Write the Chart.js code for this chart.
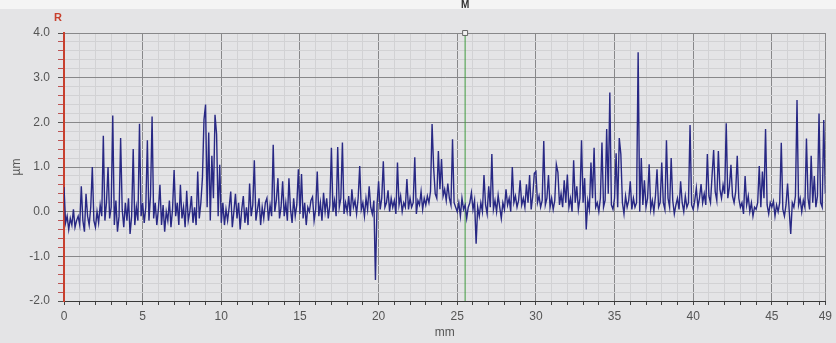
<!DOCTYPE html>
<html>
<head>
<meta charset="utf-8">
<script src="https://cdn.jsdelivr.net/npm/chart.js@4.4.0/dist/chart.umd.min.js"></script>
<style>
  html, body { margin: 0; padding: 0; }
  body {
    width: 836px;
    height: 343px;
    overflow: hidden;
    background: linear-gradient(#f4f4f4 0, #f4f4f4 9px, #e4e4e6 9px);
  }
  canvas { display: block; }
</style>
</head>
<body>
<canvas id="profileChart" width="836" height="343"></canvas>
<script>
// roughness profile, one height every 0.1 mm (µm)
const sampleStepMm = 0.1;

const heights00to10 = [
  0.55, -0.25, -0.1, -0.4, -0.15, -0.3, 0.05, -0.35, -0.2, -0.1,
  -0.3, 0.57, -0.2, -0.45, 0.4, -0.1, -0.3, 0.1, 1.0, -0.2,
  -0.35, 0.0, -0.25, 0.15, -0.1, 1.7, -0.2, 0.2, 1.0, -0.15,
  0.1, 2.15, -0.3, 0.25, -0.45, -0.1, 1.65, 0.05, -0.35, 0.2,
  -0.2, 0.3, -0.5, -0.1, 1.4, -0.3, 0.1, -0.2, 1.97, -0.1,
  0.2, -0.25, 0.1, 1.6, -0.2, 0.35, 2.13, -0.15, 0.2, -0.3,
  0.05, 0.6, -0.3, 0.15, -0.45, 0.0, -0.2, 0.25, -0.35, 0.05,
  0.93, -0.1, 0.2, -0.3, 0.6, -0.15, 0.1, -0.35, 0.47, -0.2,
  0.0, 0.35, -0.25, 0.1, -0.3, 0.9, -0.15, 0.2, 0.75, 2.06,
  2.4, 0.1, 1.77, -0.2, 1.25, 0.3, 2.17, 1.74, -0.1, 1.05
];

const heights10to20 = [
  -0.25, 0.2, -0.3, 0.05, -0.2, 0.1, 0.45, -0.35, 0.0, 0.4,
  -0.15, 0.2, -0.4, 0.05, 0.35, -0.25, 0.1, -0.3, 0.63, -0.1,
  0.15, 1.15, -0.2, 0.05, 0.3, -0.3, 0.1, -0.15, 0.2, 0.3,
  -0.2, 0.15, -0.1, 1.5, 0.0, 0.25, 0.75, -0.15, 0.1, 0.68,
  -0.1, 0.2, -0.2, 0.75, 0.05, -0.25, 0.3, -0.1, 0.15, 0.95,
  -0.05, 0.84, -0.15, 0.2, -0.3, 0.1, 0.0, 0.25, 0.33, -0.2,
  0.05, 0.9, -0.1, 0.2, -0.2, 0.42, 0.0, 0.3, -0.15, 0.15,
  1.43, 0.0, 0.25, -0.1, 1.45, 0.1, 0.3, 1.55, -0.05, 0.2,
  0.0, 0.35, -0.1, 0.5, 0.1, 0.25, -0.05, 0.3, 1.02, 0.05,
  0.2, -0.1, 0.3, 0.05, 0.57, 0.1, -0.05, 0.25, -1.53, 0.15
];

const heights20to30 = [
  0.68, 0.05, 0.3, 1.13, 0.1, 0.2, 0.48, 0.0, 0.3, 0.1,
  0.25, -0.05, 1.1, 0.15, 0.35, 0.0, 0.2, 0.1, 0.73, 0.05,
  0.3, 0.1, 0.2, 1.22, -0.05, 0.25, 0.15, 0.45, 0.05, 0.3,
  0.15, 0.35, 0.2, 0.45, 1.96, 0.98, 0.4, 0.3, 1.36, 0.5,
  1.18, 0.35, 0.5, 0.25, 0.63, 0.3, 0.15, 1.62, 0.2, 0.1,
  0.0, 0.2, -0.1, 0.3, 0.05, 0.15, -0.15, 0.1, 0.2, 0.42,
  0.05, 0.25, -0.72, 0.1, -0.1, 0.2, 0.0, 0.82, 0.15, -0.05,
  0.57, 0.1, 1.29, 0.05, 0.25, 0.0, 0.37, 0.1, -0.15, 0.2,
  0.05, 0.5, 0.15, 0.3, 0.0, 1.0, 0.2, 0.35, 0.1, 0.25,
  0.7, 0.15, 0.3, 0.1, 0.61, 0.2, 0.82, 0.05, 0.35, 0.86
];

const heights30to40 = [
  0.9, 0.2, 0.35, 0.1, 0.25, 1.58, 0.15, 0.3, 0.82, 0.1,
  0.3, 0.05, 0.25, 1.06, 0.88, 0.15, 0.4, 0.1, 0.7, 0.2,
  0.83, 0.1, 0.3, 0.0, 1.15, 0.2, 0.57, 0.05, 0.3, 1.6,
  0.2, 0.75, -0.4, 0.25, 0.05, 1.1, 0.3, 1.43, 0.1, 0.2,
  0.0, 0.3, 1.55, 0.1, 0.25, 1.85, 0.4, 2.67, 0.15, 0.05,
  0.3, 1.31, 0.1, 1.65, 1.29, 0.2, -0.05, 0.35, 0.1, 0.25,
  0.68, 0.05, 0.3, 0.1, 0.2, 3.57, 0.0, 1.2, 0.15, 0.7,
  0.1, 0.3, 1.06, 0.05, 0.25, 0.0, 0.35, 0.95, 0.1, 0.2,
  1.1, 0.2, 0.05, 1.6, 0.3, 0.1, 1.2, 0.25, -0.05, 0.15,
  0.3, 0.05, 0.68, 0.2, 0.0, 0.35, 0.1, 0.2, 1.94, 0.15
];

const heights40to48 = [
  0.05, 0.25, 0.53, 0.1, 0.3, 0.62, 0.2, 0.4, 0.15, 1.29,
  0.35, 0.2, 0.81, 1.38, 0.45, 0.25, 1.36, 0.5, 0.3, 0.6,
  0.4, 1.98, 0.3, 0.55, 1.05, 0.35, 0.2, 0.45, 1.25, 0.3,
  0.1, 0.2, -0.05, 0.8, 0.15, 0.35, 0.0, 0.2, -0.1, 0.1,
  0.05, 0.2, 1.02, 0.1, 0.9, 0.3, 1.85, 0.15, -0.05, 0.2,
  0.1, 0.23, -0.1, 0.15, 0.0, 0.2, 1.54, 0.05, -0.1, 0.15,
  0.63, 0.05, -0.5, 0.2, 0.1, 0.35, 2.5, 0.15, 0.3, 0.0,
  0.25, 0.1, 1.64, 0.3, 0.05, 1.25, 0.2, 0.8, 0.1, 0.35,
  2.2, 0.2, 0.1, 2.05, 0.4
];

// axes
const xMaxMm = 48.4;
const xEndLabel = '49';
const xLabelEvery = 5;
const yMin = -2;
const yMax = 4;
const yMinorStep = 0.2;

// cursor line
const markerMm = 25.5;
const markerLabel = 'M';
const axisTag = 'R';

const heights = [
  ...heights00to10, ...heights10to20, ...heights20to30,
  ...heights30to40, ...heights40to48
];
const profilePoints = heights.map((h, i) => ({ x: +(i * sampleStepMm).toFixed(2), y: h }));

const isWhole = (v, n) => Math.abs(v / n - Math.round(v / n)) < 1e-6;

const labelPlugin = {
  id: 'labels',
  afterDraw(chart) {
    const ctx = chart.ctx;
    const xs = chart.scales.x;
    const ys = chart.scales.y;
    ctx.save();
    ctx.font = 'bold 11px "Liberation Sans", Arial, sans-serif';
    ctx.fillStyle = '#c8402e';
    ctx.textAlign = 'center';
    ctx.textBaseline = 'bottom';
    ctx.fillText(axisTag, xs.left - 6, ys.top - 10);
    ctx.font = 'bold 10px "Liberation Sans", Arial, sans-serif';
    ctx.fillStyle = '#333';
    ctx.fillText(markerLabel, xs.getPixelForValue(markerMm), 10);
    ctx.restore();
  }
};

new Chart(document.getElementById('profileChart'), {
  type: 'line',
  data: {
    datasets: [
      {
        data: profilePoints,
        borderColor: '#282884',
        borderWidth: 1.4,
        pointRadius: 0,
        tension: 0
      },
      {
        data: [{ x: markerMm, y: yMin }, { x: markerMm, y: yMax }],
        borderColor: '#3f9a3f',
        borderWidth: 1,
        pointRadius: [0, 3.5],
        pointStyle: 'rect',
        pointBackgroundColor: '#f2f2f2',
        pointBorderColor: '#666',
        pointBorderWidth: 1,
        clip: false
      }
    ]
  },
  options: {
    responsive: false,
    devicePixelRatio: 1,
    animation: false,
    layout: { padding: { top: 33, right: 9, left: 0, bottom: 0 } },
    plugins: {
      legend: { display: false },
      tooltip: { enabled: false }
    },
    scales: {
      x: {
        type: 'linear',
        min: 0,
        max: xMaxMm,
        afterFit(s) { s.height = 42; },
        afterBuildTicks(s) {
          const t = [];
          for (let v = 0; v <= Math.floor(xMaxMm); v++) t.push({ value: v });
          t.push({ value: xMaxMm });
          s.ticks = t;
        },
        border: { color: '#3a3a3a', width: 1 },
        grid: {
          color: c => (c.tick && isWhole(c.tick.value, xLabelEvery)) || (c.tick && c.tick.value === xMaxMm) ? '#88888a' : '#d2d2d4',
          tickLength: 4,
          tickColor: '#444'
        },
        ticks: {
          autoSkip: false,
          maxRotation: 0,
          padding: 4,
          color: '#555',
          font: { family: '"Liberation Sans", Arial, sans-serif', size: 12 },
          callback: v => v === xMaxMm ? xEndLabel : (isWhole(v, xLabelEvery) ? String(v) : '')
        },
        title: {
          display: true,
          text: 'mm',
          color: '#555',
          padding: { top: 0, bottom: 3 },
          font: { family: '"Liberation Sans", Arial, sans-serif', size: 12 }
        }
      },
      y: {
        min: yMin,
        max: yMax,
        afterFit(s) { s.width = 64; },
        afterBuildTicks(s) {
          const t = [];
          const n = Math.round((yMax - yMin) / yMinorStep);
          for (let i = 0; i <= n; i++) t.push({ value: +(yMin + i * yMinorStep).toFixed(2) });
          s.ticks = t;
        },
        border: { color: '#c8402e', width: 2 },
        grid: {
          color: c => c.tick && isWhole(c.tick.value, 1) ? '#88888a' : '#d2d2d4',
          tickLength: 6,
          tickColor: c => c.tick && isWhole(c.tick.value, 1) ? '#555' : '#b55'
        },
        ticks: {
          autoSkip: false,
          padding: 8,
          color: '#555',
          font: { family: '"Liberation Sans", Arial, sans-serif', size: 12 },
          callback: v => isWhole(v, 1) ? v.toFixed(1) : ''
        },
        title: {
          display: true,
          text: 'µm',
          color: '#555',
          padding: { top: 9, bottom: 0 },
          font: { family: '"Liberation Sans", Arial, sans-serif', size: 12 }
        }
      }
    }
  },
  plugins: [labelPlugin]
});
</script>
</body>
</html>
